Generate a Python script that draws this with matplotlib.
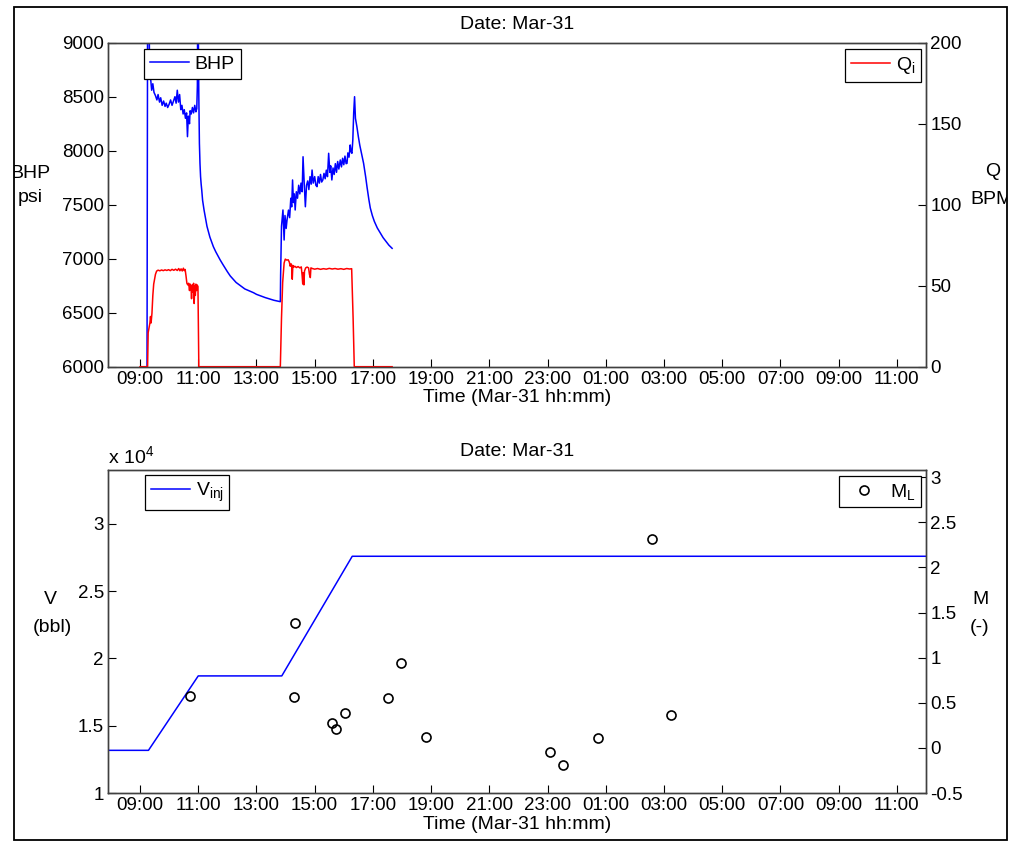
import datetime as dt
import matplotlib
matplotlib.use('Agg')
import matplotlib.pyplot as plt
import matplotlib.dates as mdates
from matplotlib.patches import Rectangle
from matplotlib.ticker import FuncFormatter, MultipleLocator

plt.rcParams['font.family'] = ['Liberation Sans', 'DejaVu Sans']
plt.rcParams['mathtext.default'] = 'regular'

day0 = dt.datetime(2014, 3, 31)

# bottom-hole pressure (psi) vs hours since midnight Mar-31
bhp_hours = [9.24, 9.26, 9.31, 9.33, 9.37, 9.40, 9.44, 9.48, 9.53, 9.58, 9.62, 9.67,
             9.71, 9.76, 9.81, 9.86, 9.90, 9.95, 10.00, 10.05, 10.10, 10.15, 10.20,
             10.24, 10.28, 10.32, 10.36, 10.40, 10.44, 10.48, 10.52, 10.56, 10.60,
             10.63, 10.66, 10.70, 10.72, 10.76, 10.80, 10.84, 10.88, 10.92, 10.95,
             10.97, 10.98, 11.00, 11.02, 11.04, 11.06, 11.08, 11.10, 11.12, 11.15,
             11.20, 11.24, 11.30, 11.35, 11.40, 11.52, 11.60, 11.75, 11.85, 12.00,
             12.10, 12.30, 12.50, 12.60, 12.90, 13.00, 13.30, 13.40, 13.60, 13.82,
             13.83, 13.86, 13.91, 13.95, 13.98, 14.02, 14.05, 14.10, 14.14, 14.18,
             14.21, 14.24, 14.27, 14.30, 14.33, 14.37, 14.41, 14.45, 14.49, 14.53,
             14.57, 14.60, 14.64, 14.68, 14.72, 14.76, 14.80, 14.84, 14.88, 14.91,
             14.95, 15.00, 15.04, 15.08, 15.12, 15.16, 15.20, 15.24, 15.28, 15.32,
             15.36, 15.40, 15.44, 15.48, 15.52, 15.55, 15.59, 15.63, 15.67, 15.71,
             15.75, 15.79, 15.83, 15.88, 15.92, 15.96, 16.00, 16.04, 16.08, 16.11,
             16.14, 16.18, 16.22, 16.25, 16.28, 16.31, 16.34, 16.37, 16.40, 16.45,
             16.50, 16.55, 16.62, 16.68, 16.75, 16.80, 16.86, 16.91, 16.98, 17.05,
             17.15, 17.26, 17.35, 17.45, 17.55, 17.66]
bhp_psi = [5950, 9300, 9300, 8700, 8650, 8560, 8620, 8540, 8510, 8470, 8520, 8450,
           8490, 8420, 8460, 8410, 8440, 8400, 8430, 8470, 8420, 8460, 8500,
           8440, 8560, 8450, 8520, 8380, 8420, 8340, 8380, 8300, 8350,
           8130, 8320, 8250, 8370, 8340, 8400, 8350, 8420, 8360, 8390,
           8600, 9200, 9200, 8500, 8068, 7880, 7760, 7690, 7636, 7540,
           7450, 7389, 7300, 7250, 7200, 7111, 7065, 6990, 6945, 6880,
           6840, 6780, 6740, 6720, 6685, 6670, 6640, 6632, 6615, 6602,
           6850, 7300, 7451, 7173, 7400, 7280, 7358, 7450, 7380, 7560,
           7480, 7729, 7520, 7600, 7451, 7620, 7560, 7680, 7600, 7700,
           7620, 7944, 7700, 7481, 7680, 7720, 7640, 7760, 7690, 7821,
           7700, 7760, 7680, 7667, 7760, 7700, 7780, 7710, 7729, 7790,
           7740, 7820, 7760, 7976, 7800, 7860, 7729, 7840, 7780, 7880,
           7800, 7900, 7830, 7914, 7850, 7930, 7870, 7950, 7880, 7883,
           7980, 7940, 8053, 7990, 7976, 8100, 8350, 8500, 8300, 8222,
           8130, 8050, 7960, 7883, 7760, 7660, 7550, 7470, 7400, 7345,
           7285, 7235, 7195, 7160, 7125, 7096]

# injection rate (BPM)
q_hours = [9.00, 9.26, 9.28, 9.31, 9.34, 9.36, 9.38, 9.41, 9.44, 9.47, 9.50, 9.53,
           9.57, 9.62, 9.68, 9.74, 9.80, 9.86, 9.92, 9.98, 10.04, 10.10, 10.16,
           10.22, 10.28, 10.33, 10.37, 10.41, 10.45, 10.49, 10.52, 10.55, 10.58,
           10.61, 10.64, 10.67, 10.70, 10.72, 10.75, 10.77, 10.79, 10.82, 10.84,
           10.86, 10.88, 10.90, 10.92, 10.94, 10.96, 10.99, 11.02, 13.82, 13.86,
           13.90, 13.95, 13.99, 14.04, 14.09, 14.13, 14.16, 14.19, 14.21, 14.23,
           14.25, 14.28, 14.32, 14.37, 14.43, 14.49, 14.54, 14.57, 14.59, 14.61,
           14.63, 14.65, 14.69, 14.74, 14.79, 14.82, 14.85, 14.87, 14.92, 15.00,
           15.10, 15.20, 15.30, 15.40, 15.50, 15.60, 15.70, 15.80, 15.90, 16.00,
           16.10, 16.20, 16.27, 16.32, 16.36, 17.66]
q_bpm = [0, 0, 21, 24, 27, 31, 27, 33, 44, 51, 54, 57,
         59, 59.6, 59.2, 59.7, 59.3, 59.8, 59.4, 59.9, 59.3, 60.1, 59.5,
         60.2, 59.4, 60.6, 59.2, 60.4, 59.1, 60.8, 59.3, 60.0, 56,
         51.5, 50.5, 51.5, 47, 51, 49.5, 42, 50.5, 46, 51.5,
         39, 50, 44, 51, 47, 50.5, 49.5, 0, 0, 30,
         52, 64, 66.4, 65.8, 66, 64.5, 62, 63.5, 62.5, 54,
         62.5, 61.5, 62, 61.2, 61.8, 61, 61.6, 56, 51, 58,
         50.5, 59, 61, 61.5, 61, 57, 55, 61, 60.6, 60.2,
         60.6, 60.1, 60.5, 60.2, 60.7, 60.3, 60.6, 60.2, 60.5, 60.1,
         60.6, 60.3, 60.5, 30, 0, 0]

# cumulative injected volume (bbl)
vinj_hours = [7.9, 9.29, 11.0, 13.87, 16.29, 36.0]
vinj_bbl = [13170, 13170, 18700, 18700, 27590, 27590]

# M_L estimates
ml_hours = [10.72, 14.30, 14.33, 15.59, 15.72, 16.04, 17.51, 17.97, 18.84,
            23.08, 23.53, 24.72, 26.59, 27.23]
ml_vals = [0.58, 0.56, 1.38, 0.28, 0.21, 0.39, 0.55, 0.94, 0.12,
           -0.045, -0.195, 0.11, 2.32, 0.36]

W, H = 1011, 841


def to_time(hours):
    return [day0 + dt.timedelta(hours=h) for h in hours]


def fig_box(x0, y0, x1, y1):
    return [x0 / W, 1 - y1 / H, (x1 - x0) / W, (y1 - y0) / H]


fig = plt.figure(figsize=(W / 100, H / 100), dpi=100)

frame = Rectangle((14 / W, 1 - 840 / H), (1007 - 14) / W, (840 - 7) / H,
                  transform=fig.transFigure, fill=False, ec='black', lw=1.3)
fig.patches.append(frame)

legend_kw = dict(frameon=True, fancybox=False, edgecolor='black', framealpha=1,
                 borderaxespad=0, handlelength=2.0, handletextpad=0.3,
                 borderpad=0.3, fontsize=14)


def style_pair(ax, axr):
    for a in (ax, axr):
        for sp in a.spines.values():
            sp.set_color('#404040')
            sp.set_linewidth(1.0)
    ax.set_xlim(to_time([7.9, 36.0]))
    ax.xaxis.set_major_locator(mdates.HourLocator(byhour=range(1, 24, 2)))
    ax.xaxis.set_major_formatter(mdates.DateFormatter('%H:%M'))
    ax.tick_params(axis='both', direction='in', length=6, width=0.8,
                   labelsize=13.5, pad=3, top=False, right=False)
    axr.tick_params(axis='y', direction='in', length=6, width=0.8,
                    labelsize=13.5, pad=3, left=False, right=True)
    ax.set_xlabel('Time (Mar-31 hh:mm)', fontsize=14, labelpad=1)
    ax.set_title('Date: Mar-31', fontsize=14, pad=10)


# pressure / rate panel
ax1 = fig.add_axes(fig_box(108, 42.7, 926, 366.7))
ax2 = ax1.twinx()
ax1.plot(to_time(bhp_hours), bhp_psi, color='#0000ff', lw=1.1, label='BHP')
ax2.plot(to_time(q_hours), q_bpm, color='#ff0000', lw=1.1, label='$Q_i$')
ax1.set_ylim(6000, 9000)
ax1.yaxis.set_major_locator(MultipleLocator(500))
ax2.set_ylim(0, 200)
ax2.yaxis.set_major_locator(MultipleLocator(50))
style_pair(ax1, ax2)
leg = ax1.legend(loc='upper left', bbox_to_anchor=(0.0444, 0.9796), **legend_kw)
leg.get_frame().set_linewidth(0.9)
leg = ax2.legend(loc='upper right', bbox_to_anchor=(0.9939, 0.9806), **legend_kw)
leg.get_frame().set_linewidth(0.9)

# volume / M panel
ax3 = fig.add_axes(fig_box(108, 470, 926, 793))
ax4 = ax3.twinx()
ax3.plot(to_time(vinj_hours), vinj_bbl, color='#0000ff', lw=1.1, label='$V_{inj}$')
ax4.plot(to_time(ml_hours), ml_vals, 'o', mfc='none', mec='black', ms=6.5,
         mew=1.2, label='$M_L$')
ax3.set_ylim(10000, 34000)
ax3.yaxis.set_major_locator(MultipleLocator(5000))
ax3.yaxis.set_major_formatter(FuncFormatter(lambda v, p: f'{v / 1e4:g}'))
ax4.set_ylim(-0.5, 3.08)
ax4.yaxis.set_major_locator(MultipleLocator(0.5))
ax4.yaxis.set_major_formatter(FuncFormatter(lambda v, p: f'{v:g}'))
style_pair(ax3, ax4)
leg = ax3.legend(loc='upper left', bbox_to_anchor=(0.0452, 0.9845), **legend_kw)
leg.get_frame().set_linewidth(0.9)
leg = ax4.legend(loc='upper right', bbox_to_anchor=(0.9939, 0.9824), **legend_kw)
leg.get_frame().set_linewidth(0.9)

fig.text(108 / W, 1 - 463 / H, 'x 10$^4$', ha='left', va='baseline', fontsize=14)


def side_text(x, y, s):
    # axis captions sit outside the axes and get trimmed by the outer frame
    t = fig.text(x / W, 1 - y / H, s, ha='center', va='center', fontsize=14)
    t.set_clip_path(frame)
    return t


side_text(30, 173, 'BHP')
side_text(30, 198, 'psi')
side_text(993, 172, 'Q')
side_text(992, 199, 'BPM')
side_text(50, 600, 'V')
side_text(52, 627, '(bbl)')
side_text(980, 600, 'M')
side_text(980, 627, '(-)')

fig.savefig('out.png', dpi=100)
